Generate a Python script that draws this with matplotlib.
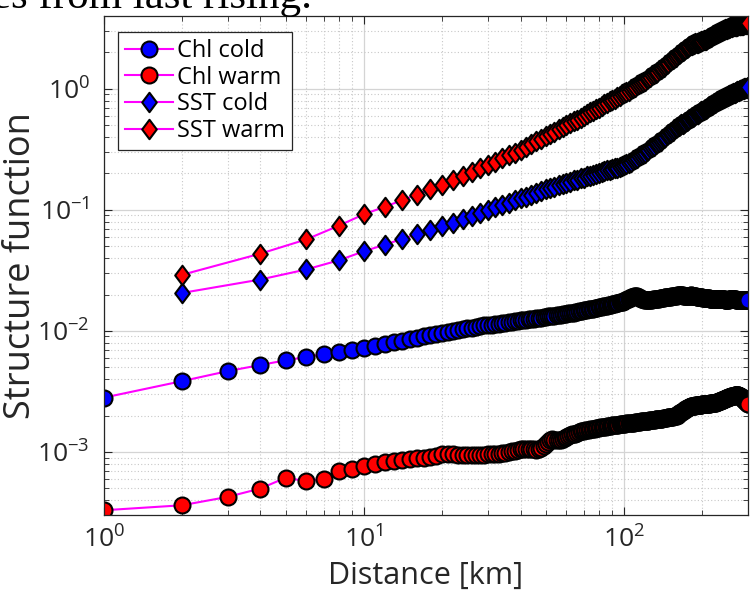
import matplotlib
matplotlib.use('Agg')
import matplotlib.pyplot as plt
import numpy as np
from matplotlib.path import Path

plt.rcParams['font.family'] = ['Open Sans', 'DejaVu Sans']
plt.rcParams['mathtext.default'] = 'regular'

# distances [km]
dist_chl = list(range(1, 301))
dist_sst = list(range(2, 301, 2))

# Chl cold, in units of 1e-3
chl_cold = [
    2.81, 3.85, 4.66, 5.23, 5.72, 6.09, 6.45, 6.70, 6.97, 7.28,
    7.55, 7.82, 8.08, 8.30, 8.55, 8.78, 9.00, 9.22, 9.45, 9.68,
    9.85, 10.0, 10.2, 10.3, 10.5, 10.6, 10.8, 10.9, 11.1, 11.2,
    11.3, 11.4, 11.5, 11.6, 11.7, 11.8, 11.9, 12.0, 12.1, 12.2,
    12.3, 12.4, 12.5, 12.5, 12.6, 12.7, 12.8, 12.9, 13.0, 13.1,
    13.2, 13.3, 13.3, 13.4, 13.5, 13.6, 13.6, 13.7, 13.8, 13.9,
    14.0, 14.1, 14.2, 14.2, 14.3, 14.4, 14.5, 14.6, 14.7, 14.8,
    14.9, 15.0, 15.1, 15.2, 15.3, 15.3, 15.4, 15.5, 15.6, 15.7,
    15.8, 15.9, 16.0, 16.1, 16.1, 16.2, 16.3, 16.4, 16.5, 16.6,
    16.7, 16.8, 16.9, 17.0, 17.1, 17.2, 17.3, 17.4, 17.5, 17.7,
    17.9, 18.1, 18.3, 18.5, 18.7, 18.9, 19.1, 19.2, 19.3, 19.4,
    19.4, 19.3, 19.1, 18.9, 18.7, 18.5, 18.3, 18.2, 18.1, 18.0,
    18.0, 17.9, 17.9, 17.9, 18.0, 18.0, 18.1, 18.1, 18.2, 18.2,
    18.3, 18.3, 18.4, 18.4, 18.5, 18.5, 18.6, 18.6, 18.7, 18.7,
    18.8, 18.8, 18.9, 18.9, 19.0, 19.0, 19.0, 19.1, 19.1, 19.2,
    19.2, 19.3, 19.3, 19.4, 19.4, 19.5, 19.5, 19.6, 19.6, 19.7,
    19.7, 19.7, 19.8, 19.8, 19.8, 19.8, 19.7, 19.7, 19.6, 19.6,
    19.5, 19.5, 19.4, 19.4, 19.4, 19.5, 19.5, 19.6, 19.6, 19.7,
    19.7, 19.6, 19.6, 19.5, 19.5, 19.4, 19.4, 19.3, 19.3, 19.2,
    19.2, 19.1, 19.1, 19.0, 19.0, 19.0, 18.9, 18.9, 18.9, 18.8,
    18.8, 18.8, 18.8, 18.7, 18.7, 18.7, 18.7, 18.6, 18.6, 18.6,
    18.6, 18.6, 18.5, 18.5, 18.5, 18.5, 18.5, 18.5, 18.4, 18.4,
    18.4, 18.4, 18.4, 18.4, 18.3, 18.3, 18.3, 18.3, 18.3, 18.3,
    18.3, 18.3, 18.3, 18.2, 18.2, 18.2, 18.2, 18.2, 18.2, 18.2,
    18.2, 18.2, 18.2, 18.1, 18.1, 18.1, 18.1, 18.1, 18.1, 18.1,
    18.1, 18.1, 18.2, 18.2, 18.2, 18.2, 18.3, 18.3, 18.3, 18.3,
    18.3, 18.3, 18.3, 18.3, 18.2, 18.2, 18.2, 18.2, 18.1, 18.1,
    18.1, 18.1, 18.0, 18.0, 18.0, 18.0, 17.9, 17.9, 17.9, 17.9,
    17.9, 17.9, 17.9, 17.9, 17.9, 17.9, 17.9, 18.0, 18.0, 18.0,
    18.0, 18.0, 18.0, 18.0, 18.0, 18.0, 18.0, 17.9, 17.9, 17.9,
]

# Chl warm, in units of 1e-4
chl_warm = [
    3.30, 3.63, 4.26, 4.99, 6.12, 5.75, 6.01, 7.00, 7.30, 7.65,
    7.95, 8.20, 8.40, 8.60, 8.75, 8.85, 8.95, 9.10, 9.30, 9.55,
    9.60, 9.55, 9.50, 9.45, 9.45, 9.45, 9.45, 9.50, 9.50, 9.55,
    9.60, 9.65, 9.70, 9.80, 9.90, 10.0, 10.1, 10.2, 10.4, 10.5,
    10.5, 10.6, 10.6, 10.5, 10.5, 10.4, 10.5, 10.8, 11.2, 11.7,
    12.2, 12.6, 12.7, 12.6, 12.5, 12.5, 12.6, 12.8, 13.0, 13.3,
    13.6, 13.8, 14.0, 14.1, 14.2, 14.4, 14.6, 14.8, 14.9, 15.0,
    15.1, 15.2, 15.3, 15.4, 15.5, 15.6, 15.6, 15.7, 15.8, 15.9,
    16.0, 16.0, 16.1, 16.2, 16.2, 16.3, 16.4, 16.4, 16.5, 16.6,
    16.6, 16.7, 16.7, 16.8, 16.8, 16.9, 16.9, 17.0, 17.0, 17.1,
    17.1, 17.2, 17.2, 17.3, 17.3, 17.4, 17.4, 17.5, 17.5, 17.6,
    17.6, 17.7, 17.7, 17.8, 17.8, 17.9, 17.9, 18.0, 18.0, 18.0,
    18.1, 18.1, 18.2, 18.2, 18.3, 18.3, 18.4, 18.4, 18.4, 18.5,
    18.5, 18.6, 18.6, 18.7, 18.7, 18.8, 18.8, 18.8, 18.9, 18.9,
    19.0, 19.0, 19.1, 19.1, 19.2, 19.2, 19.3, 19.3, 19.4, 19.4,
    19.5, 19.5, 19.6, 19.6, 19.7, 19.7, 19.8, 19.9, 20.0, 20.2,
    20.4, 20.6, 20.8, 21.0, 21.2, 21.4, 21.6, 21.8, 22.0, 22.2,
    22.4, 22.6, 22.8, 23.0, 23.2, 23.3, 23.5, 23.6, 23.7, 23.8,
    23.9, 24.0, 24.0, 24.1, 24.1, 24.2, 24.2, 24.3, 24.3, 24.4,
    24.4, 24.4, 24.5, 24.5, 24.5, 24.6, 24.6, 24.6, 24.7, 24.7,
    24.7, 24.8, 24.8, 24.8, 24.9, 24.9, 24.9, 25.0, 25.0, 25.0,
    25.1, 25.1, 25.1, 25.2, 25.2, 25.2, 25.3, 25.3, 25.3, 25.4,
    25.4, 25.5, 25.5, 25.6, 25.6, 25.7, 25.8, 25.9, 26.0, 26.1,
    26.2, 26.3, 26.4, 26.5, 26.6, 26.7, 26.8, 26.9, 27.0, 27.1,
    27.2, 27.3, 27.4, 27.5, 27.6, 27.7, 27.8, 27.9, 28.0, 28.1,
    28.2, 28.3, 28.4, 28.5, 28.6, 28.7, 28.8, 28.9, 28.9, 29.0,
    29.0, 29.1, 29.1, 29.2, 29.2, 29.3, 29.3, 29.3, 29.4, 29.4,
    29.4, 29.4, 29.4, 29.3, 29.3, 29.2, 29.1, 29.0, 28.9, 28.8,
    28.6, 28.4, 28.2, 28.0, 27.8, 27.6, 27.4, 27.2, 27.0, 26.8,
    26.6, 26.4, 26.2, 26.0, 25.8, 25.6, 25.4, 25.2, 25.0, 24.9,
]

sst_cold = [
    0.0206, 0.0266, 0.0322, 0.0383, 0.0455, 0.0515, 0.0575, 0.0630, 0.0680, 0.0730,
    0.0785, 0.0838, 0.0890, 0.0943, 0.0997, 0.105, 0.110, 0.115, 0.120, 0.1245,
    0.129, 0.134, 0.139, 0.144, 0.148, 0.152, 0.156, 0.160, 0.164, 0.168,
    0.171, 0.175, 0.178, 0.182, 0.185, 0.189, 0.192, 0.195, 0.199, 0.202,
    0.205, 0.208, 0.212, 0.215, 0.218, 0.221, 0.224, 0.228, 0.232, 0.236,
    0.240, 0.245, 0.251, 0.257, 0.263, 0.270, 0.277, 0.284, 0.291, 0.298,
    0.306, 0.314, 0.322, 0.330, 0.338, 0.347, 0.356, 0.365, 0.374, 0.383,
    0.392, 0.402, 0.412, 0.422, 0.432, 0.442, 0.452, 0.462, 0.472, 0.482,
    0.490, 0.499, 0.508, 0.517, 0.526, 0.535, 0.544, 0.553, 0.562, 0.571,
    0.580, 0.589, 0.598, 0.607, 0.616, 0.625, 0.634, 0.643, 0.652, 0.661,
    0.670, 0.679, 0.688, 0.697, 0.706, 0.715, 0.724, 0.733, 0.742, 0.751,
    0.760, 0.769, 0.778, 0.787, 0.796, 0.805, 0.814, 0.823, 0.832, 0.841,
    0.848, 0.855, 0.862, 0.869, 0.876, 0.883, 0.890, 0.897, 0.904, 0.911,
    0.918, 0.925, 0.932, 0.939, 0.946, 0.953, 0.960, 0.967, 0.974, 0.981,
    0.986, 0.991, 0.996, 1.00, 1.01, 1.01, 1.02, 1.02, 1.03, 1.03,
]

sst_warm = [
    0.0291, 0.0435, 0.0570, 0.0740, 0.0920, 0.106, 0.120, 0.134, 0.148, 0.162,
    0.176, 0.190, 0.205, 0.220, 0.235, 0.250, 0.266, 0.282, 0.298, 0.315,
    0.332, 0.350, 0.368, 0.386, 0.405, 0.424, 0.443, 0.462, 0.481, 0.500,
    0.519, 0.538, 0.558, 0.578, 0.598, 0.618, 0.638, 0.659, 0.680, 0.701,
    0.722, 0.743, 0.765, 0.787, 0.809, 0.831, 0.853, 0.876, 0.899, 0.922,
    0.945, 0.968, 0.992, 1.02, 1.04, 1.07, 1.09, 1.12, 1.14, 1.17,
    1.20, 1.23, 1.26, 1.29, 1.32, 1.35, 1.39, 1.42, 1.46, 1.49,
    1.53, 1.57, 1.61, 1.65, 1.69, 1.73, 1.77, 1.81, 1.85, 1.89,
    1.93, 1.97, 2.01, 2.05, 2.09, 2.13, 2.17, 2.21, 2.25, 2.29,
    2.31, 2.33, 2.35, 2.37, 2.39, 2.41, 2.43, 2.45, 2.47, 2.49,
    2.51, 2.53, 2.55, 2.58, 2.61, 2.64, 2.67, 2.70, 2.73, 2.76,
    2.79, 2.82, 2.85, 2.88, 2.91, 2.94, 2.97, 3.00, 3.03, 3.06,
    3.08, 3.10, 3.12, 3.14, 3.16, 3.18, 3.20, 3.22, 3.24, 3.26,
    3.28, 3.29, 3.30, 3.31, 3.32, 3.33, 3.34, 3.35, 3.36, 3.37,
    3.38, 3.39, 3.40, 3.41, 3.42, 3.43, 3.44, 3.45, 3.46, 3.47,
]

labels = ['Chl cold', 'Chl warm', 'SST cold', 'SST warm']

# MATLAB-like diamond (taller than wide)
diamond = Path([(0, 1), (0.75, 0), (0, -1), (-0.75, 0), (0, 1)],
               [Path.MOVETO, Path.LINETO, Path.LINETO, Path.LINETO, Path.CLOSEPOLY])

fig = plt.figure(figsize=(7.5, 5.92), dpi=100)
ax = fig.add_axes([0.1383, 0.1296, 0.8594, 0.8434])

line_kw = dict(color='#ff00ff', lw=1.5, mec='black', mew=1.5)
ax.plot(dist_chl, np.array(chl_cold) * 1e-3, marker='o', ms=11.5, mfc='#0000ff',
        label=labels[0], **line_kw)
ax.plot(dist_chl, np.array(chl_warm) * 1e-4, marker='o', ms=11.5, mfc='#ff0000',
        label=labels[1], **line_kw)
ax.plot(dist_sst, sst_cold, marker=diamond, ms=14, mfc='#0000ff',
        label=labels[2], **line_kw)
ax.plot(dist_sst, sst_warm, marker=diamond, ms=14, mfc='#ff0000',
        label=labels[3], **line_kw)

ax.set_xscale('log')
ax.set_yscale('log')
ax.set_xlim(1, 300)
ax.set_ylim(3e-4, 4)

ax.grid(True, which='major', color='#d4d4d4', lw=0.9, ls='-')
ax.grid(True, which='minor', color='#c8c8c8', lw=0.8, ls=(0, (1, 2)))
ax.set_axisbelow(True)

ax.tick_params(which='both', direction='in', top=True, right=True,
               labelsize=19, colors='#262626')
ax.tick_params(which='major', length=6, width=0.8)
ax.tick_params(which='minor', length=3.5, width=0.6)
ax.tick_params(axis='x', pad=8)
ax.tick_params(axis='y', pad=10)
for sp in ax.spines.values():
    sp.set_color('#262626')
    sp.set_linewidth(0.9)

ax.set_xlabel('Distance [km]', fontsize=22, color='#262626', va='center')
ax.xaxis.set_label_coords(0.5, -0.122)
ax.set_ylabel('Structure function', fontsize=26, color='#262626', va='center')
ax.yaxis.set_label_coords(-0.128, 0.5)

leg = ax.legend(loc='upper left', bbox_to_anchor=(0.0227, 0.9685), borderaxespad=0,
                fontsize=17, handlelength=2.0, handletextpad=0.2,
                labelspacing=0.12, borderpad=0.3, fancybox=False,
                framealpha=1, edgecolor='#262626')
leg.get_frame().set_linewidth(0.9)

# clipped caption line from the page above the figure
fig.text(-0.01, 0.987, 'es from last rising.', family=['Liberation Serif', 'DejaVu Serif'],
         fontsize=31, va='baseline', ha='left')

fig.savefig('out.png', dpi=100)
